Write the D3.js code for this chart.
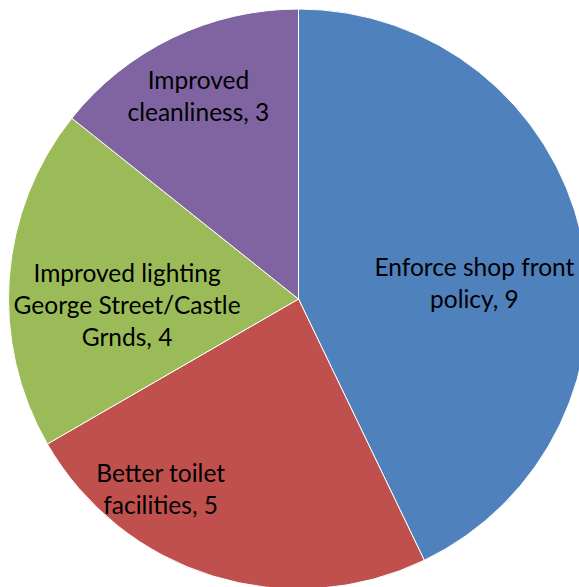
<!DOCTYPE html>
<html>
<head>
<meta charset="utf-8">
<script src="https://cdn.jsdelivr.net/npm/d3@7"></script>
<style>
  body { margin: 0; background: #fff; }
  svg { display: block; }
</style>
</head>
<body>
<div></div>
<script>
var width = 579, height = 587;

// chart data
var categories = ["Enforce shop front policy", "Better toilet facilities",
                  "Improved lighting George Street/Castle Grnds", "Improved cleanliness"];
var values = [9, 5, 4, 3];
var labelLines = [
  ["Enforce shop front", "policy, 9"],
  ["Better toilet", "facilities, 5"],
  ["Improved lighting", "George Street/Castle", "Grnds, 4"],
  ["Improved", "cleanliness, 3"]
];
var colors = ["#4F81BD", "#C0504D", "#9BBB59", "#8064A2"];

// label nudges from the centroid (excel "best fit" placement)
var labelShift = [[-22, 30], [-78, -4], [31, 22], [-12, -20]];

var cx = 298.5, cy = 299, radius = 290;
var lineH = 32;

var svg = d3.select("div").append("svg")
    .attr("width", width)
    .attr("height", height);

var pie = d3.pie()
    .sort(null)
    .value(function(d) { return d; });

var arc = d3.arc()
    .innerRadius(0)
    .outerRadius(radius);

var labelArc = d3.arc()
    .innerRadius(radius * 0.7)
    .outerRadius(radius * 0.7);

var arcs = pie(values);

var g = svg.append("g")
    .attr("transform", "translate(" + cx + "," + cy + ")");

g.selectAll("path")
    .data(arcs)
  .enter().append("path")
    .attr("d", arc)
    .style("fill", function(d, i) { return colors[i]; })
    .style("stroke", "white")
    .style("stroke-width", "1px");

var labels = g.selectAll("text")
    .data(arcs)
  .enter().append("text")
    .attr("transform", function(d, i) {
      var c = labelArc.centroid(d);
      return "translate(" + (c[0] + labelShift[i][0]) + "," + (c[1] + labelShift[i][1]) + ")";
    })
    .attr("text-anchor", "middle")
    .style("font-family", "Lato, 'Open Sans', sans-serif")
    .style("font-size", "24.5px")
    .style("fill", "#000");

labels.each(function(d, i) {
  var lines = labelLines[i];
  var top = -(lines.length - 1) * lineH / 2;
  d3.select(this).selectAll("tspan")
      .data(lines)
    .enter().append("tspan")
      .attr("x", 0)
      .attr("y", function(l, j) { return top + j * lineH; })
      .attr("dy", "0.35em")
      .text(function(l) { return l; });
});
</script>
</body>
</html>
